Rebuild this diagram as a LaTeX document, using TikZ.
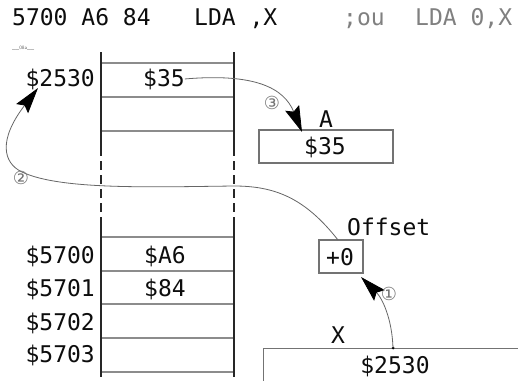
\documentclass[tikz,border=0pt]{standalone}
\usepackage{fontspec}
\setmonofont{DejaVu Sans Mono}
\newfontfamily\symfont{DejaVu Sans}
\usetikzlibrary{arrows.meta}
\begin{document}
\begin{tikzpicture}[x=1pt,y=-1pt,
  mono/.style={font=\fontsize{23}{26}\selectfont\ttfamily, inner sep=0pt, text=black!95},
  faint/.style={mono, text=black!50},
  col/.style={line width=2pt, draw=black!85},
  row/.style={line width=1.3pt, draw=black!45},
  reg/.style={draw=black!55, line width=1.2pt, inner sep=0pt},
  conn/.style={draw=black!60, line width=0.8pt, -{Stealth[black, length=26pt, width=15pt, inset=4pt]}},
  num/.style={font=\fontsize{18}{18}\selectfont\symfont, text=black!55, inner sep=0pt}]

\fill[white] (0,0) rectangle (518,380);
\useasboundingbox (0,0) rectangle (518,380);
\clip (0,0) rectangle (518,380);

% title line
\node[mono, anchor=base west] (t1) at (12,25) {5700 A6 84};
\node[mono, anchor=base west] (t2) at (194,25) {LDA ,X};
\node[faint, anchor=base west] (t3) at (343,25) {;ou};
\node[faint, anchor=base west] (t4) at (415,25) {LDA 0,X};
\node[font=\fontsize{5}{5}\selectfont\sffamily, text=black!60, anchor=base west, inner sep=0pt] (tag) at (12,49) {\_\_08a\_\_};

% memory column
\foreach \y in {63,97,131,237,271,304,338,372} \draw[row] (101,\y) -- (234,\y);
\foreach \x in {101,234} {
  \draw[col] (\x,52) -- (\x,147);
  \draw[col, dash pattern=on 9pt off 5pt] (\x,147) -- (\x,220);
  \draw[col] (\x,220) -- (\x,377);
}

\node[mono, anchor=base east] (a2530) at (95,86) {\$2530};
\node[mono, anchor=base] (v35) at (164,86) {\$35};
\node[mono, anchor=base east] (a5700) at (95,263) {\$5700};
\node[mono, anchor=base] (vA6) at (165,263) {\$A6};
\node[mono, anchor=base east] (a5701) at (95,296) {\$5701};
\node[mono, anchor=base] (v84) at (165,296) {\$84};
\node[mono, anchor=base east] (a5702) at (95,330) {\$5702};
\node[mono, anchor=base east] (a5703) at (95,362) {\$5703};

% registers
\node[reg, minimum width=134pt, minimum height=33pt] (abox) at (326,146.5) {};
\node[mono, anchor=base] (aval) at (325,154) {\$35};
\node[mono, anchor=base] (alab) at (326,127) {A};

\node[reg, minimum width=44pt, minimum height=33pt] (obox) at (341,256.5) {};
\node[mono, anchor=base] (oval) at (340,265) {+0};
\node[mono, anchor=base west] (olab) at (347,235) {Offset};

\node[reg, minimum width=300pt, minimum height=60pt, anchor=north west] (xbox) at (263,348) {};
\node[mono, anchor=base] (xval) at (395,373) {\$2530};
\node[mono, anchor=base] (xlab) at (338,343) {X};

% connectors
\coordinate (p1) at (393,348);
\coordinate (q1) at (361,277);
\fill[black] (p1) circle (1.5pt);
\draw[conn] (p1) .. controls (392,318) and (382,298) .. (q1);
\node[num] (n1) at (389,294) {①};

\coordinate (p2) at (338,240);
\coordinate (q2) at (38,88);
\draw[conn] (p2) .. controls (305,198) and (275,186) .. (234,186)
  .. controls (150,187) and (60,190) .. (22,172)
  .. controls (3,163) and (-2,140) .. (q2);
\node[num] (n2) at (21,178) {②};

\coordinate (q3) at (302,132);
\draw[conn] (v35.east) .. controls (255,73) and (284,88) .. (q3);
\node[num] (n3) at (272,103) {③};
\end{tikzpicture}
\end{document}
